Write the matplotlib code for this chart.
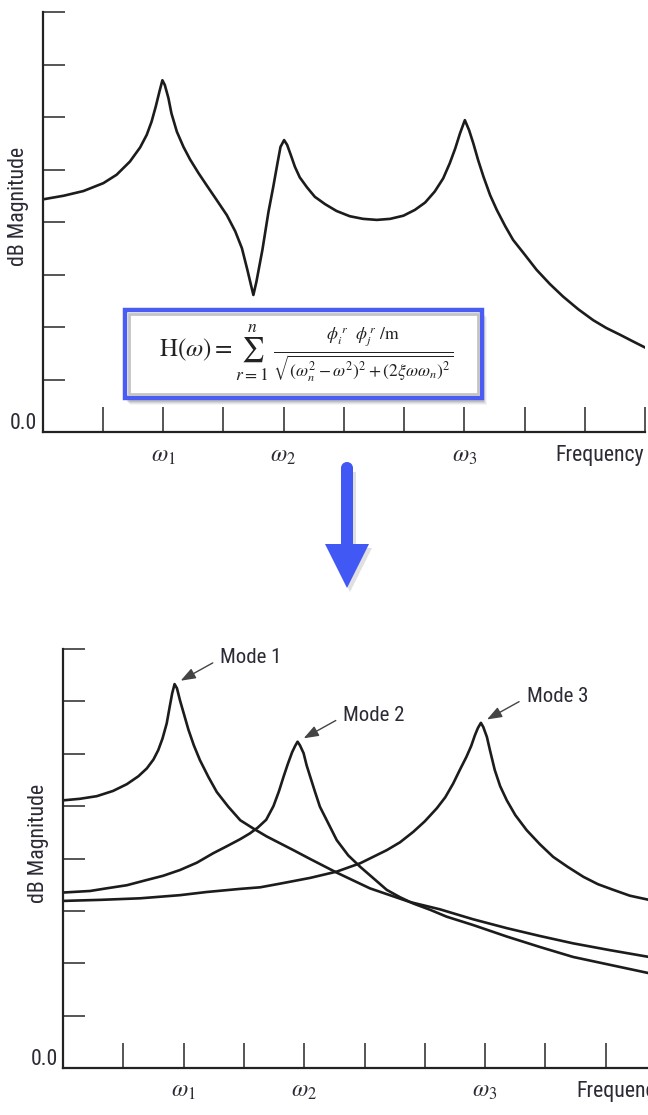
import os

import matplotlib
matplotlib.use("Agg")
import matplotlib.pyplot as plt
import matplotlib.patches as mpatches
from matplotlib import font_manager as fm
import numpy as np

W, H = 648, 1115
plt.rcParams["mathtext.fontset"] = "stix"

# Combined FRF (top panel): frequency and level in tick units
top_freq = [0.00, 0.35, 0.68, 1.01, 1.23, 1.45, 1.62, 1.73, 1.81, 1.88, 1.94, 1.99, 2.03,
            2.09, 2.14, 2.23, 2.34, 2.45, 2.59, 2.73, 2.89, 3.06, 3.20, 3.31, 3.40, 3.46,
            3.50, 3.55, 3.65, 3.75, 3.83, 3.90, 3.95, 4.01, 4.06, 4.12, 4.19, 4.27, 4.39,
            4.52, 4.69, 4.88, 5.10, 5.32, 5.55, 5.77, 5.99, 6.18, 6.35, 6.51, 6.65, 6.76,
            6.85, 6.93, 7.01, 7.08, 7.15, 7.23, 7.32, 7.43, 7.54, 7.68, 7.81, 8.01, 8.20,
            8.42, 8.64, 8.89, 9.14, 9.36, 9.59, 9.81, 10.0]
top_db = [4.43, 4.50, 4.59, 4.74, 4.90, 5.15, 5.42, 5.66, 5.91, 6.20, 6.48, 6.70, 6.61,
          6.36, 6.07, 5.72, 5.43, 5.19, 4.93, 4.69, 4.42, 4.13, 3.82, 3.50, 3.09, 2.80,
          2.61, 2.86, 3.47, 4.19, 4.67, 5.12, 5.43, 5.56, 5.47, 5.28, 5.05, 4.85, 4.66,
          4.48, 4.34, 4.21, 4.11, 4.06, 4.04, 4.06, 4.12, 4.23, 4.37, 4.58, 4.83, 5.12,
          5.40, 5.69, 5.94, 5.75, 5.50, 5.18, 4.86, 4.51, 4.23, 3.92, 3.66, 3.37, 3.09,
          2.82, 2.58, 2.34, 2.13, 1.98, 1.85, 1.72, 1.61]

# Individual modes (bottom panel)
mode1_freq = [0.00, 0.28, 0.56, 0.83, 1.06, 1.25, 1.39, 1.50, 1.58, 1.65, 1.72, 1.77, 1.81,
              1.85, 1.89, 1.94, 2.01, 2.08, 2.17, 2.27, 2.41, 2.55, 2.74, 2.94, 3.16, 3.38,
              3.60, 3.82, 4.10, 4.54, 5.09, 5.75, 6.25, 6.80, 7.36, 7.91, 8.46, 9.07, 9.72]
mode1_db = [5.11, 5.14, 5.19, 5.29, 5.42, 5.57, 5.72, 5.89, 6.07, 6.29, 6.58, 6.90, 7.15,
            7.33, 7.25, 7.02, 6.74, 6.46, 6.16, 5.88, 5.56, 5.27, 4.99, 4.73, 4.57, 4.42,
            4.29, 4.16, 3.99, 3.73, 3.43, 3.17, 3.03, 2.84, 2.67, 2.52, 2.38, 2.25, 2.12]

mode2_freq = [0.00, 0.45, 0.72, 1.06, 1.39, 1.66, 1.94, 2.22, 2.49, 2.71, 2.94, 3.10, 3.23,
              3.37, 3.49, 3.58, 3.66, 3.73, 3.80, 3.85, 3.89, 3.93, 3.99, 4.04, 4.10, 4.18,
              4.26, 4.40, 4.54, 4.73, 4.93, 5.15, 5.37, 5.59, 5.81, 6.09, 6.36, 6.80, 7.36,
              7.91, 8.46, 9.07, 9.72]
mode2_db = [3.35, 3.38, 3.43, 3.49, 3.59, 3.67, 3.78, 3.92, 4.10, 4.23, 4.37, 4.48, 4.59,
            4.74, 5.00, 5.28, 5.57, 5.81, 6.03, 6.15, 6.23, 6.16, 6.01, 5.78, 5.56, 5.27,
            4.99, 4.67, 4.35, 4.06, 3.84, 3.62, 3.40, 3.26, 3.14, 3.02, 2.89, 2.73, 2.51,
            2.31, 2.12, 1.97, 1.81]

mode3_freq = [0.00, 0.61, 1.28, 1.94, 2.38, 2.94, 3.27, 3.60, 4.10, 4.54, 4.93, 5.37, 5.59,
              5.81, 6.00, 6.20, 6.34, 6.47, 6.58, 6.69, 6.77, 6.83, 6.88, 6.93, 6.97, 7.03,
              7.08, 7.16, 7.25, 7.36, 7.50, 7.69, 7.91, 8.13, 8.37, 8.63, 8.87, 9.13, 9.40,
              9.72]
mode3_db = [3.19, 3.21, 3.24, 3.30, 3.36, 3.42, 3.45, 3.52, 3.63, 3.75, 3.91, 4.16, 4.31,
            4.51, 4.71, 4.96, 5.17, 5.43, 5.69, 5.94, 6.15, 6.35, 6.49, 6.59, 6.51, 6.32,
            6.07, 5.69, 5.38, 5.11, 4.83, 4.54, 4.27, 4.03, 3.84, 3.65, 3.51, 3.40, 3.29,
            3.21]

omega_ticks = [2, 4, 7]
omega_labels = [r"$\omega_1$", r"$\omega_2$", r"$\omega_3$"]
mode_labels = ["Mode 1", "Mode 2", "Mode 3"]

LINE = "#1c1c1c"
TEXT = "#2b2b36"
BLUE = "#4a5cf2"


def condensed_font_file():
    wanted = ["liberationsansnarrow-regular", "robotocondensed-regular",
              "dejavusanscondensed.ttf", "opensans_condensed-regular",
              "opensanscondensed-regular"]
    files = [f.fname for f in fm.fontManager.ttflist]
    for w in wanted:
        for fn in files:
            if w in os.path.basename(fn).lower():
                return fn
    return None


FONT_FILE = condensed_font_file()


def label_font(size):
    if FONT_FILE:
        return fm.FontProperties(fname=FONT_FILE, size=size)
    return fm.FontProperties(family="Liberation Sans", size=size)


def px_rect(left, top, right, bottom):
    return [left / W, 1 - bottom / H, (right - left) / W, (bottom - top) / H]


fig = plt.figure(figsize=(W / 100, H / 100), dpi=100)

# size the label font so that "Frequency" is as wide as in the reference (~89 px)
probe = fig.text(0, 0, "Frequency", fontproperties=label_font(10))
probe_w = probe.get_window_extent(fig.canvas.get_renderer()).width
probe.remove()
LABEL_SIZE = 10 * 89 / probe_w


def style_axes(ax):
    ax.set_xlim(0, 10)
    ax.set_ylim(0, 8)
    ax.patch.set_alpha(0)
    for side in ("top", "right"):
        ax.spines[side].set_visible(False)
    for side in ("left", "bottom"):
        ax.spines[side].set_linewidth(1.6)
        ax.spines[side].set_color("#222222")
    ax.set_xticks(range(1, 11))
    ax.set_yticks(range(1, 9))
    ax.tick_params(direction="in", width=1.4, color="#555555",
                   labelleft=False, labelbottom=False)
    ax.tick_params(axis="y", length=16)
    ax.tick_params(axis="x", length=18)

    ax.text(-0.09, 0.05, "0.0", ha="right", va="baseline",
            fontproperties=label_font(LABEL_SIZE), color=TEXT, clip_on=False)
    ax.text(-0.40, 4.29, "dB Magnitude", rotation=90, ha="center", va="center",
            fontproperties=label_font(LABEL_SIZE), color=TEXT, clip_on=False)
    for x, lab in zip(omega_ticks, omega_labels):
        ax.text(x, -0.2, lab, ha="center", va="top", fontsize=17, color=TEXT, clip_on=False)
    ax.text(8.52, -0.24, "Frequency", ha="left", va="top",
            fontproperties=label_font(LABEL_SIZE), color=TEXT, clip_on=False)


# top panel
ax1 = fig.add_axes(px_rect(42.5, 12, 645, 432))
style_axes(ax1)
ax1.plot(top_freq, top_db, color=LINE, lw=1.9, solid_joinstyle="round")

# bottom panel (runs past the right edge, as in the reference)
ax2 = fig.add_axes(px_rect(63, 649, 666, 1068))
style_axes(ax2)
modes = [(mode1_freq, mode1_db), (mode2_freq, mode2_db), (mode3_freq, mode3_db)]
for (fx, fy), lab in zip(modes, mode_labels):
    ax2.plot(fx, fy, color=LINE, lw=1.9, solid_joinstyle="round")
    i = int(np.argmax(fy))
    ax2.annotate(lab, xy=(fx[i], fy[i]), xytext=(33, 19), textcoords="offset points",
                 ha="left", va="center", fontproperties=label_font(LABEL_SIZE * 0.95),
                 color=TEXT,
                 arrowprops=dict(arrowstyle="-|>,head_length=0.6,head_width=0.22",
                                 color="#444444", lw=1.0, shrinkA=4, shrinkB=5,
                                 relpos=(0, 0.45)))

# overlay in pixel units for the formula box and the big arrow
ov = fig.add_axes([0, 0, 1, 1], zorder=5)
ov.set_xlim(0, W)
ov.set_ylim(H, 0)
ov.axis("off")

for k, a in enumerate([0.10, 0.08, 0.06, 0.04]):
    ov.add_patch(mpatches.Rectangle((125 + 2 + k, 310 + 4 + k), 357, 88, facecolor="#000000",
                                    alpha=a, edgecolor="none"))
ov.add_patch(mpatches.Rectangle((125, 310), 357, 88, facecolor="white",
                                edgecolor=BLUE, lw=3.2))
ov.add_patch(mpatches.Rectangle((129, 314), 349, 80, facecolor="none",
                                edgecolor="#c4c4c4", lw=2.0))
formula = (r"$\mathrm{H}(\omega) = \sum_{r=1}^{n}\ "
           r"\frac{\phi_i^{\,r}\ \ \phi_j^{\,r}\ /\mathrm{m}}"
           r"{\sqrt{(\omega_n^2 - \omega^2)^2 + (2\xi\omega\omega_n)^2}}$")
ov.text(306, 354, formula, ha="center", va="center", fontsize=18, color="#222222")

# big blue arrow
ov.add_patch(mpatches.FancyArrow(350, 472, 0, 120, width=12, head_width=44, head_length=44,
                                 length_includes_head=True, color="#000000", alpha=0.12, lw=0))
ov.add_patch(mpatches.FancyArrow(347, 468, 0, 120, width=12, head_width=44, head_length=44,
                                 length_includes_head=True, color="#4158f5", lw=0))
ov.add_patch(mpatches.Circle((347, 468), 6, color="#4158f5", lw=0))

fig.savefig("out.png", dpi=100)
